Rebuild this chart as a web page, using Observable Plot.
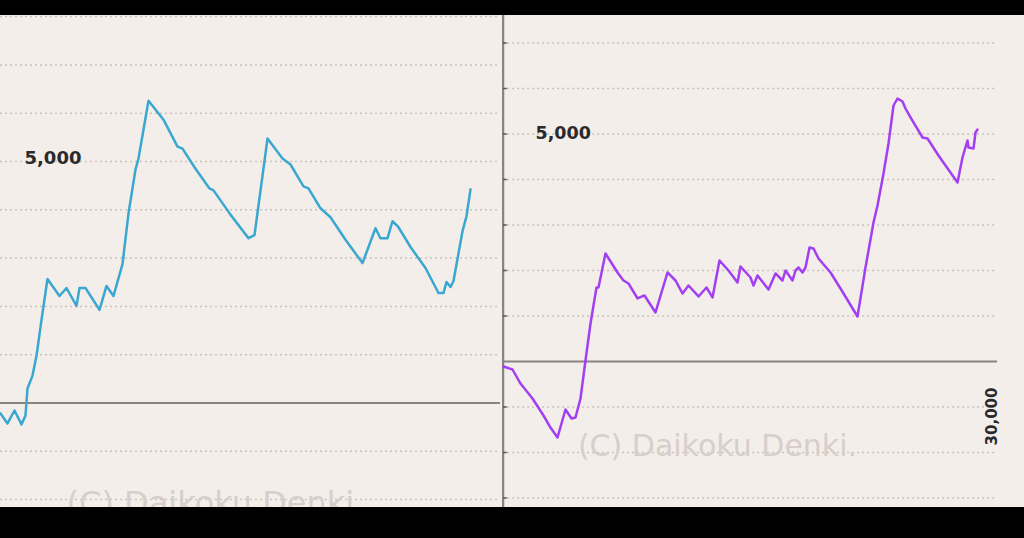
<!DOCTYPE html>
<html><head><meta charset="utf-8">
<script src="https://cdn.jsdelivr.net/npm/d3@7"></script>
<script src="https://cdn.jsdelivr.net/npm/@observablehq/plot@0.6"></script>
<style>
html,body{margin:0;padding:0;background:#000;}
#wrap{position:relative;width:1024px;height:538px;background:#000;overflow:hidden;}
#left{position:absolute;left:0;top:15px;}
#right{position:absolute;left:502px;top:15px;}
svg{display:block;}
</style></head><body><div id="wrap"><div id="left"></div><div id="right"></div></div>
<script>
// Left slump graph (games, medals difference)
const leftGames  = [0,420,840,1260,1500,1620,1920,2160,2520,2820,3540,3960,4560,4740,5100,5940,6360,6780,7320,7680,8100,8280,8880,9780,10620,10920,11700,12540,12780,13800,14880,15240,16020,16380,16920,17400,18180,18480,19200,19800,20700,21720,22500,22800,23220,23520,23880,24600,25500,26280,26580,26760,27000,27180,27720,27960,28200];
const leftValues = [-216,-423,-155,-443,-258,299,567,979,1866,2567,2216,2381,2010,2381,2381,1928,2423,2216,2876,3928,4835,5062,6258,5866,5309,5268,4850,4443,4402,3900,3412,3474,5474,5309,5062,4938,4485,4443,4031,3845,3380,2897,3619,3412,3412,3763,3639,3230,2794,2278,2278,2505,2402,2526,3557,3866,4423];
// Right slump graph
const rightGames  = [0,547,1033,1761,2429,2854,3279,3765,4130,4373,4676,4980,5283,5648,5769,6194,6923,7288,7591,8138,8563,9231,9960,10446,10871,11235,11842,12328,12692,13117,13664,14211,14393,15000,15182,15425,16093,16518,16943,17126,17551,17733,17915,18158,18341,18584,18826,19130,19859,20466,21498,21984,22470,22713,23077,23381,23685,23927,24231,24413,24717,25446,25749,26417,27571,27874,28178,28239,28543,28664,28786];
const rightValues = [-110,-176,-484,-813,-1187,-1451,-1670,-1055,-1253,-1231,-813,22,835,1626,1626,2374,1956,1780,1714,1385,1451,1077,1956,1780,1495,1670,1429,1626,1407,2220,2000,1736,2088,1846,1670,1890,1582,1934,1780,2000,1780,2000,2066,1956,2066,2505,2484,2264,1956,1604,989,2066,3055,3429,4132,4791,5626,5780,5714,5560,5363,4923,4901,4527,3934,4484,4857,4703,4681,5033,5099];
// Grid / tick values
const leftGrid  = [-2000,-1000,1000,2000,3000,4000,5000,6000,7000,8000];
const rightGrid = [-3000,-2000,-1000,1000,2000,3000,4000,5000,6000,7000];
const yLabels = [5000];
const xEndLabels = [30000];
const watermark = ["(C) Daikoku Denki."];

const fmt = d3.format(",");
const BG = "#f4eeea", GRID = "#c9c1bc", AXIS = "#8a837f", FONT = "DejaVu Sans";

const leftData = leftGames.map((g,i)=>({g, v:leftValues[i]}));
const rightData = rightGames.map((g,i)=>({g, v:rightValues[i]}));

const left = Plot.plot({
  width: 502, height: 492,
  marginTop: 0, marginBottom: 0, marginLeft: 0, marginRight: 2,
  x: {domain: [0, 30000], axis: null},
  y: {domain: [-2164, 8023], axis: null},
  style: {background: BG, fontFamily: FONT, overflow: "hidden"},
  marks: [
    Plot.ruleY(leftGrid, {stroke: GRID, strokeWidth: 1.5, strokeDasharray: "2,3"}),
    Plot.ruleY([0], {stroke: AXIS, strokeWidth: 2}),
    Plot.text(watermark, {text: d => d, frameAnchor: "bottom", dx: -35, dy: 6, fontSize: 32, fill: "#d6cfcb", fontFamily: FONT}),
    Plot.line(leftData, {x: "g", y: "v", stroke: "#3aa7d1", strokeWidth: 2.5, strokeLinejoin: "round"}),
    Plot.text(yLabels, {y: d => d, text: d => fmt(d), frameAnchor: "left", textAnchor: "start", dx: 24, dy: -3, fontSize: 18, fontWeight: "bold", fill: "#2a2a2a", fontFamily: FONT})
  ]
});
document.getElementById("left").appendChild(left);

const right = Plot.plot({
  width: 522, height: 492,
  marginTop: 0, marginBottom: 0, marginLeft: 1, marginRight: 27,
  x: {domain: [0, 30000], axis: null},
  y: {domain: [-3209, 7604], axis: null},
  style: {background: BG, fontFamily: FONT, overflow: "hidden"},
  marks: [
    Plot.ruleY(rightGrid, {x1: 250, x2: 30000, stroke: GRID, strokeWidth: 1.5, strokeDasharray: "2,3"}),
    Plot.ruleY([0], {stroke: AXIS, strokeWidth: 2}),
    Plot.ruleX([0], {dx: -0.5, stroke: AXIS, strokeWidth: 2.5}),
    Plot.ruleY(rightGrid, {x1: 0, x2: 230, stroke: "#5a5552", strokeWidth: 1.5}),
    Plot.text(watermark, {text: d => d, frameAnchor: "bottom", dx: -33, dy: -52, fontSize: 30, fill: "#d6cfcb", fontFamily: FONT}),
    Plot.line(rightData, {x: "g", y: "v", stroke: "#a23ff2", strokeWidth: 2.5, strokeLinejoin: "round"}),
    Plot.text(yLabels, {y: d => d, text: d => fmt(d), frameAnchor: "left", textAnchor: "start", dx: 32, dy: -1, fontSize: 17.5, fontWeight: "bold", fill: "#2a2a2a", fontFamily: FONT}),
    Plot.text(xEndLabels, {x: d => d, text: d => fmt(d), frameAnchor: "bottom", dx: -1, dy: -91, rotate: -90, fontSize: 15, fontWeight: "bold", fill: "#2a2a2a", fontFamily: FONT})
  ]
});
document.getElementById("right").appendChild(right);
</script></body></html>
